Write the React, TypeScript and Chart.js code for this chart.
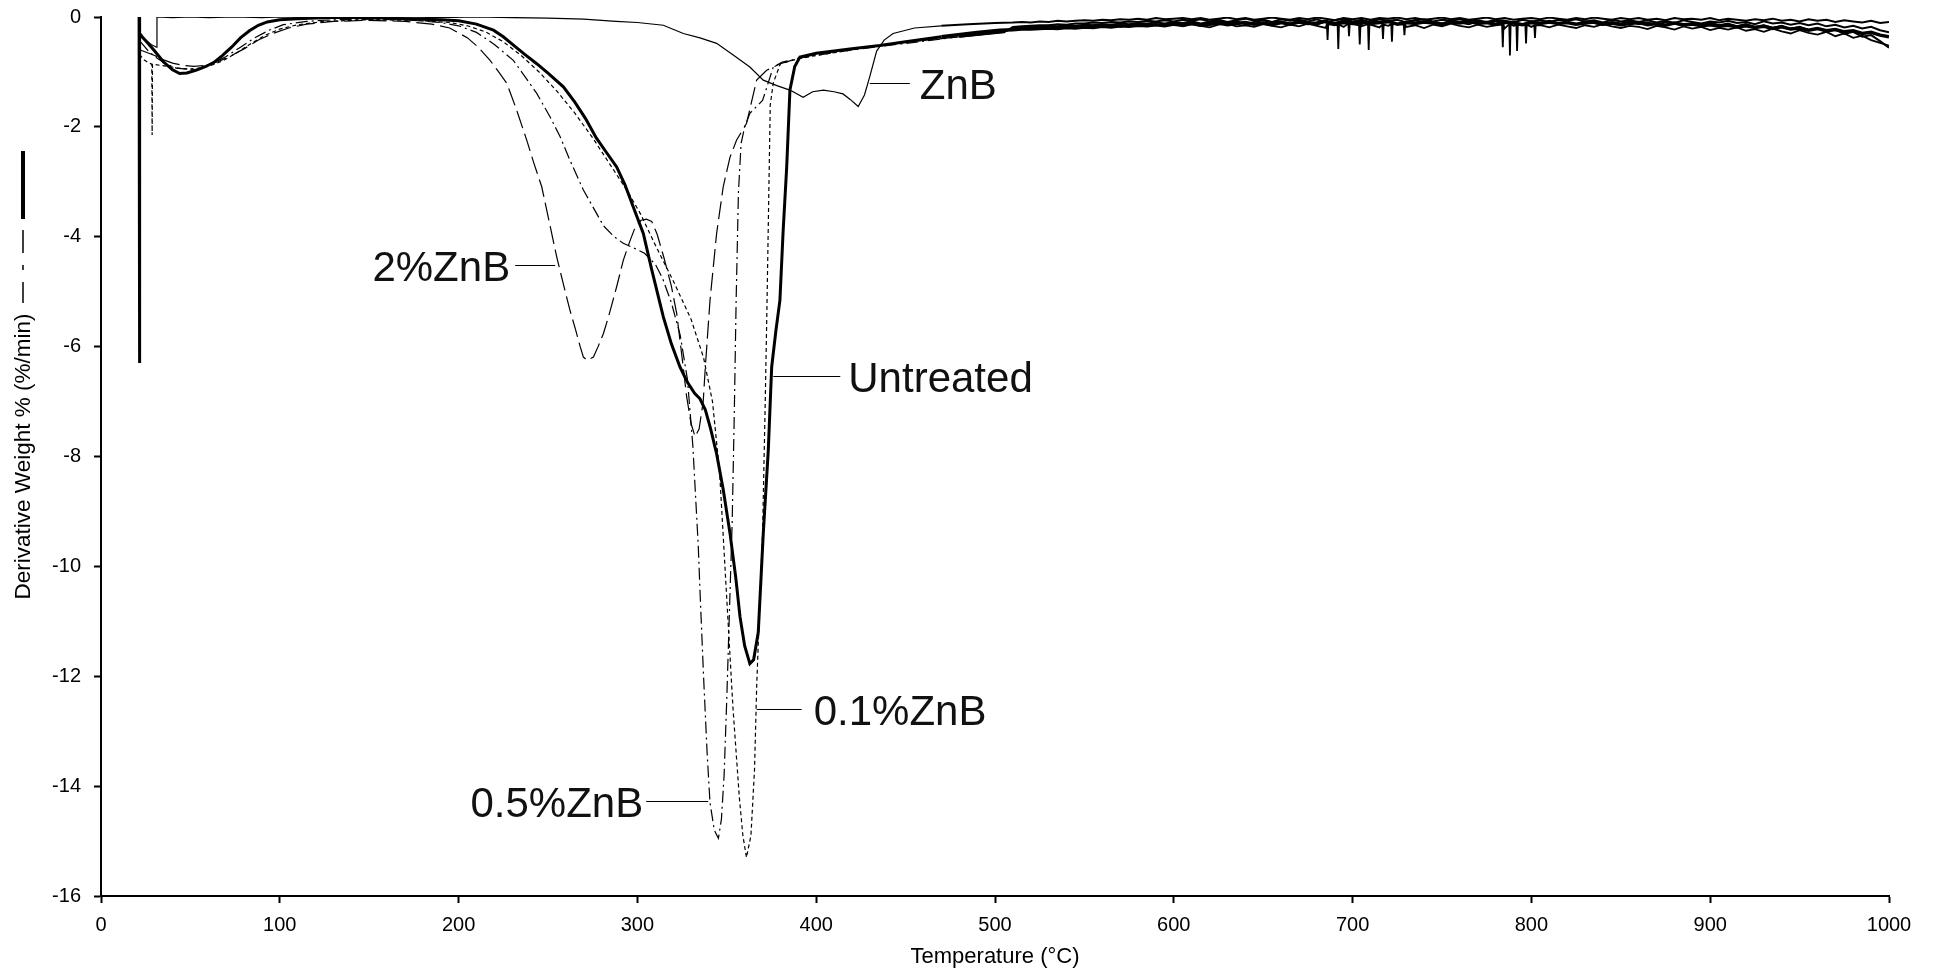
import React, { useEffect, useRef } from 'react';
import { Chart, registerables } from 'chart.js';

Chart.register(...registerables);

const FONT = '"Liberation Sans", Arial, Helvetica, sans-serif';

// ---- axes ----
const X_TICKS = [0, 100, 200, 300, 400, 500, 600, 700, 800, 900, 1000];
const Y_TICKS = [0, -2, -4, -6, -8, -10, -12, -14, -16];
const X_TITLE = 'Temperature (°C)';
const Y_TITLE = 'Derivative Weight % (%/min)';

// ---- series (temperature °C, derivative weight %/min) ----
const UNTREATED: [number, number][] = [
  [21.3, 0], [21.5, -6.3], [21.7, -0.3], [23, -0.36], [26, -0.47], [30, -0.62], [35, -0.82], [40, -0.96], [44, -1.03],
  [48, -1.02], [53, -0.97], [58, -0.91], [63, -0.83], [68, -0.7], [73, -0.55], [78, -0.38], [83, -0.25], [88, -0.15],
  [93, -0.09], [100, -0.05], [110, -0.03], [120, -0.02], [130, -0.01], [140, -0.01], [150, -0.02], [160, -0.02],
  [170, -0.03], [180, -0.04], [190, -0.05], [200, -0.07], [210, -0.13], [219.5, -0.24], [225, -0.36], [231, -0.52],
  [237, -0.68], [243.7, -0.85], [250, -1.02], [258.6, -1.27], [265, -1.55], [271, -1.85], [277, -2.2], [283, -2.48],
  [288.4, -2.73], [293, -3.05], [297.7, -3.46], [303.3, -3.94], [308, -4.6], [314.5, -5.46], [319, -5.95],
  [323.8, -6.37], [328, -6.65], [332, -6.85], [335, -6.95], [338, -7.15], [341, -7.5], [344.3, -7.95], [348, -8.6],
  [351.8, -9.4], [355, -10.2], [357.4, -10.92], [360, -11.45], [362.9, -11.77], [365, -11.7], [367.6, -11.2],
  [370.4, -9.4], [373.2, -7.89], [375.1, -6.37], [377.5, -5.7], [379.7, -5.16], [381.5, -3.9], [383.5, -2.73],
  [385.3, -1.33], [388, -0.9], [390.9, -0.73], [400, -0.66], [410, -0.62], [418.8, -0.58], [435.6, -0.52],
  [450, -0.45], [470, -0.36], [490, -0.28], [502.7, -0.24],
];

const ZNB: [number, number][] = [
  [21.5, -0.3], [25, -0.42], [28, -0.5], [31, -0.55], [31.3, 0], [40, -0.01], [50, 0], [60, -0.01], [75, 0],
  [90, -0.01], [100, 0], [115, -0.01], [130, 0], [150, -0.01], [170, 0], [190, -0.01], [210, 0], [230, -0.01],
  [250, -0.02], [270, -0.04], [288, -0.08], [300, -0.1], [314.5, -0.15], [325.7, -0.3], [335, -0.38], [344.3, -0.48],
  [353, -0.68], [362.9, -0.91], [370.4, -1.15], [378, -1.25], [385.3, -1.33], [392.7, -1.46], [398, -1.36],
  [404, -1.33], [410, -1.36], [415, -1.4], [419, -1.5], [423.5, -1.63], [427, -1.42], [430, -1.08], [433.8, -0.62],
  [438, -0.42], [443, -0.3], [455, -0.2], [470, -0.16], [485, -0.13], [500, -0.11],
];

const ZNB_01: [number, number][] = [
  [21.5, -0.68], [24, -0.78], [27, -0.84], [28.4, -0.86], [28.6, -2.15], [28.8, -0.86], [33, -0.88], [38, -0.9],
  [45, -0.94], [52, -0.95], [60, -0.9], [68, -0.8], [76, -0.65], [84, -0.48], [92, -0.33], [100, -0.22], [110, -0.14],
  [125, -0.08], [150, -0.05], [175, -0.06], [195, -0.1], [205, -0.16], [215, -0.27], [225, -0.45], [235, -0.7],
  [245, -1.0], [255, -1.35], [265, -1.75], [275, -2.2], [285, -2.7], [295, -3.2], [302, -3.6], [310, -4.15],
  [320, -4.8], [330, -5.5], [337, -6.2], [342, -7.0], [346, -8.3], [350, -10.6], [353.5, -12.6], [357, -14.2],
  [359, -14.9], [361, -15.3], [363.5, -14.9], [365.5, -13.7], [366.7, -12.2], [368.5, -10.6], [370, -9.4],
  [371.5, -7], [372.5, -5.2], [373.5, -3.2], [374.3, -1.6], [376, -1.2], [380, -0.85], [390, -0.76], [400, -0.7],
  [420, -0.6], [450, -0.45], [480, -0.33], [505, -0.25],
];

const ZNB_05: [number, number][] = [
  [22, -0.45], [26, -0.6], [30, -0.72], [36, -0.85], [42, -0.93], [48, -0.95], [55, -0.93], [62, -0.85], [70, -0.72],
  [78, -0.55], [86, -0.38], [94, -0.24], [102, -0.14], [115, -0.08], [130, -0.05], [150, -0.04], [170, -0.05],
  [190, -0.1], [200, -0.16], [210, -0.28], [220, -0.5], [230.6, -0.79], [237, -1.08], [243.7, -1.39], [251.2, -1.82],
  [256.8, -2.18], [262.3, -2.61], [269.8, -3.15], [275, -3.45], [281, -3.8], [287, -4.0], [292.1, -4.12],
  [297.7, -4.2], [304, -4.3], [310, -4.5], [314, -4.75], [319, -5.2], [324, -5.8], [328, -6.6], [331, -7.8],
  [334, -9.6], [335.2, -10.6], [337, -12], [339, -13.4], [340.6, -14.3], [343, -14.8], [345.3, -14.95], [347, -14.6],
  [348.5, -13.8], [350, -12.4], [351.5, -10.8], [353, -9.2], [354.2, -7.2], [355.2, -5.2], [356.5, -3.2], [358, -2.3],
  [360, -2.0], [363, -1.75], [370, -1.52], [376, -0.91], [381, -0.82], [395, -0.72], [420, -0.6], [450, -0.48],
  [480, -0.36], [505, -0.27],
];

const ZNB_2: [number, number][] = [
  [22, -0.6], [26, -0.65], [30, -0.7], [35, -0.78], [40, -0.84], [46, -0.88], [52, -0.9], [58, -0.88], [65, -0.82],
  [72, -0.72], [80, -0.58], [88, -0.42], [96, -0.3], [105, -0.2], [115, -0.13], [130, -0.08], [150, -0.06],
  [170, -0.08], [185, -0.13], [195, -0.2], [205, -0.38], [211, -0.55], [217.6, -0.79], [222, -0.98], [227, -1.21],
  [232, -1.65], [238.1, -2.24], [242, -2.65], [246.5, -3.09], [250.5, -3.7], [254.9, -4.37], [258.5, -4.85],
  [262.3, -5.34], [265.5, -5.7], [268, -6.0], [269.8, -6.19], [272, -6.25], [275.4, -6.19], [278, -6.0], [281, -5.76],
  [283.8, -5.46], [286, -5.2], [288.4, -4.91], [292.1, -4.43], [295.9, -4.07], [298.5, -3.85], [302, -3.7],
  [305, -3.68], [308, -3.72], [311, -3.95], [315, -4.4], [319, -4.9], [322, -5.4], [325, -6.2], [327.5, -6.9],
  [330, -7.4], [332.3, -7.64], [334.5, -7.5], [336.8, -7.0], [338, -6.37], [340.6, -5.16], [344.3, -3.94],
  [348, -3.09], [351.8, -2.55], [355.5, -2.24], [361, -1.94], [366.7, -1.15], [372.3, -0.97], [380, -0.85],
  [390, -0.75], [400, -0.68], [420, -0.58], [450, -0.46], [480, -0.36], [505, -0.28],
];

// ---- noisy high-temperature tails (510..1000 °C, every 5 °C) ----
const TAIL_T = [
  510, 515, 520, 525, 530, 535, 540, 545, 550, 555,
  560, 565, 570, 575, 580, 585, 590, 595, 600, 605,
  610, 615, 620, 625, 630, 635, 640, 645, 650, 655,
  660, 665, 670, 675, 680, 685, 690, 695, 700, 705,
  710, 715, 720, 725, 730, 735, 740, 745, 750, 755,
  760, 765, 770, 775, 780, 785, 790, 795, 800, 805,
  810, 815, 820, 825, 830, 835, 840, 845, 850, 855,
  860, 865, 870, 875, 880, 885, 890, 895, 900, 905,
  910, 915, 920, 925, 930, 935, 940, 945, 950, 955,
  960, 965, 970, 975, 980, 985, 990, 995, 1000,
];
const TAIL_UNTREATED = [
  -0.23, -0.22, -0.22, -0.21, -0.2, -0.21, -0.19, -0.2, -0.18, -0.19,
  -0.17, -0.18, -0.16, -0.17, -0.15, -0.16, -0.14, -0.16, -0.13, -0.15,
  -0.12, -0.15, -0.13, -0.11, -0.14, -0.12, -0.1, -0.13, -0.11, -0.14,
  -0.1, -0.13, -0.09, -0.12, -0.11, -0.08, -0.13, -0.1, -0.12, -0.09,
  -0.12, -0.1, -0.08, -0.13, -0.1, -0.12, -0.09, -0.11, -0.13, -0.09,
  -0.11, -0.08, -0.12, -0.1, -0.13, -0.09, -0.11, -0.14, -0.1, -0.12,
  -0.09, -0.12, -0.1, -0.13, -0.11, -0.09, -0.13, -0.11, -0.14, -0.12,
  -0.1, -0.14, -0.12, -0.15, -0.11, -0.14, -0.13, -0.16, -0.14, -0.17,
  -0.15, -0.18, -0.16, -0.19, -0.17, -0.21, -0.18, -0.22, -0.2, -0.24,
  -0.21, -0.25, -0.23, -0.27, -0.25, -0.3, -0.28, -0.33, -0.36,
];
const TAIL_ZNB = [
  -0.1, -0.09, -0.1, -0.08, -0.09, -0.07, -0.08, -0.07, -0.06, -0.07,
  -0.05, -0.06, -0.04, -0.05, -0.03, -0.05, -0.02, -0.04, -0.03, -0.02,
  -0.04, -0.02, -0.05, -0.03, -0.01, -0.04, -0.02, -0.05, -0.03, -0.01,
  -0.03, -0.05, -0.02, -0.04, -0.01, -0.03, -0.06, -0.02, -0.04, -0.02,
  -0.05, -0.02, -0.03, -0.01, -0.04, -0.02, -0.05, -0.03, -0.01, -0.04,
  -0.02, -0.05, -0.03, -0.01, -0.04, -0.02, -0.05, -0.03, -0.02, -0.04,
  -0.01, -0.03, -0.05, -0.02, -0.04, -0.01, -0.03, -0.05, -0.02, -0.04,
  -0.02, -0.05, -0.03, -0.06, -0.02, -0.04, -0.03, -0.05, -0.02, -0.06,
  -0.03, -0.05, -0.07, -0.04, -0.06, -0.03, -0.07, -0.05, -0.08, -0.04,
  -0.07, -0.05, -0.09, -0.06, -0.08, -0.1, -0.07, -0.11, -0.09,
];
const TAIL_01 = [
  -0.22, -0.2, -0.21, -0.19, -0.2, -0.17, -0.19, -0.16, -0.18, -0.15,
  -0.17, -0.14, -0.18, -0.15, -0.13, -0.17, -0.14, -0.16, -0.12, -0.17,
  -0.13, -0.16, -0.19, -0.14, -0.12, -0.17, -0.15, -0.18, -0.13, -0.16,
  -0.19, -0.14, -0.17, -0.12, -0.16, -0.2, -0.15, -0.18, -0.13, -0.17,
  -0.14, -0.19, -0.16, -0.13, -0.18, -0.15, -0.2, -0.14, -0.17, -0.12,
  -0.16, -0.19, -0.14, -0.18, -0.15, -0.21, -0.16, -0.13, -0.18, -0.15,
  -0.19, -0.14, -0.17, -0.2, -0.15, -0.18, -0.13, -0.17, -0.2, -0.16,
  -0.18, -0.22, -0.16, -0.19, -0.23, -0.17, -0.21, -0.18, -0.24, -0.2,
  -0.23, -0.19, -0.25, -0.22, -0.27, -0.21, -0.26, -0.3, -0.24, -0.29,
  -0.32, -0.27, -0.35, -0.3, -0.38, -0.34, -0.42, -0.47, -0.52,
];
const TAIL_05 = [
  -0.2, -0.19, -0.18, -0.18, -0.16, -0.17, -0.15, -0.16, -0.14, -0.15,
  -0.13, -0.14, -0.12, -0.13, -0.11, -0.12, -0.1, -0.12, -0.09, -0.11,
  -0.08, -0.12, -0.09, -0.07, -0.11, -0.08, -0.13, -0.09, -0.06, -0.1,
  -0.08, -0.12, -0.07, -0.1, -0.14, -0.08, -0.11, -0.06, -0.1, -0.13,
  -0.07, -0.11, -0.09, -0.13, -0.08, -0.06, -0.11, -0.09, -0.12, -0.07,
  -0.1, -0.13, -0.08, -0.11, -0.07, -0.12, -0.09, -0.14, -0.08, -0.11,
  -0.07, -0.12, -0.09, -0.13, -0.08, -0.11, -0.14, -0.09, -0.12, -0.08,
  -0.13, -0.1, -0.14, -0.09, -0.12, -0.16, -0.11, -0.14, -0.1, -0.15,
  -0.12, -0.17, -0.13, -0.18, -0.15, -0.2, -0.16, -0.22, -0.18, -0.24,
  -0.2, -0.27, -0.23, -0.31, -0.27, -0.36, -0.33, -0.44, -0.56,
];
const TAIL_2 = [
  -0.18, -0.17, -0.16, -0.15, -0.15, -0.13, -0.14, -0.12, -0.12, -0.1,
  -0.11, -0.09, -0.1, -0.08, -0.09, -0.07, -0.08, -0.06, -0.08, -0.05,
  -0.07, -0.04, -0.08, -0.05, -0.09, -0.06, -0.03, -0.07, -0.05, -0.09,
  -0.04, -0.07, -0.05, -0.08, -0.04, -0.1, -0.06, -0.03, -0.08, -0.05,
  -0.09, -0.04, -0.07, -0.05, -0.1, -0.06, -0.04, -0.08, -0.05, -0.07,
  -0.04, -0.08, -0.06, -0.09, -0.05, -0.07, -0.1, -0.05, -0.08, -0.06,
  -0.09, -0.05, -0.07, -0.04, -0.08, -0.06, -0.1, -0.05, -0.08, -0.06,
  -0.09, -0.06, -0.1, -0.07, -0.11, -0.06, -0.09, -0.12, -0.08, -0.1,
  -0.07, -0.11, -0.09, -0.13, -0.08, -0.12, -0.1, -0.14, -0.11, -0.15,
  -0.12, -0.17, -0.14, -0.19, -0.16, -0.21, -0.18, -0.24, -0.28,
];
// narrow noise spikes in the 0.1%ZnB trace
const SPIKES_01: [number, number][] = [
  [685.6, -0.13], [686, -0.42], [686.4, -0.13], [691.6, -0.14], [692, -0.58], [692.4, -0.14], [697.6, -0.12],
  [698, -0.35], [698.4, -0.12], [703.6, -0.15], [704, -0.5], [704.4, -0.15], [708.6, -0.13], [709, -0.6],
  [709.4, -0.13], [716.6, -0.14], [717, -0.4], [717.4, -0.14], [721.6, -0.13], [722, -0.45], [722.4, -0.13],
  [728.6, -0.14], [729, -0.33], [729.4, -0.14], [783.6, -0.14], [784, -0.55], [784.4, -0.14], [787.6, -0.13],
  [788, -0.7], [788.4, -0.13], [791.6, -0.15], [792, -0.62], [792.4, -0.15], [796.6, -0.14], [797, -0.48],
  [797.4, -0.14], [801.6, -0.15], [802, -0.38], [802.4, -0.15],
];

// ---- annotations (text, anchor temperature, anchor value) ----
const ANNOT_TEXT = ['2%ZnB', 'Untreated', '0.1%ZnB', '0.5%ZnB', 'ZnB'];
const ANNOT_T = [254, 376, 366.7, 339.6, 430];
const ANNOT_V = [-4.52, -6.54, -12.59, -14.27, -1.21];

function build(main: [number, number][], tail: number[], spikes: [number, number][] = []) {
  const pts = main.map(([x, y]) => ({ x, y }));
  TAIL_T.forEach((t, i) => pts.push({ x: t, y: tail[i] }));
  spikes.forEach(([x, y]) => pts.push({ x, y }));
  pts.sort((a, b) => a.x - b.x);
  return pts;
}

const annotPlugin = {
  id: 'annots',
  afterDraw(chart: any) {
    const { ctx, scales } = chart;
    const xs = scales.x;
    const ys = scales.y;
    const side = [-1, 1, 1, -1, 1];
    const leader = [40, 67, 45, 62, 40];
    const gap = [5, 8, 12, 3, 10];
    ctx.save();
    ctx.strokeStyle = '#000';
    ctx.fillStyle = '#111';
    ctx.lineWidth = 1.2;
    ctx.font = `42px ${FONT}`;
    ctx.textBaseline = 'alphabetic';
    ANNOT_TEXT.forEach((txt, i) => {
      const px = xs.getPixelForValue(ANNOT_T[i]);
      const py = Math.round(ys.getPixelForValue(ANNOT_V[i])) + 0.5;
      const ex = px + side[i] * leader[i];
      ctx.beginPath();
      ctx.moveTo(px, py);
      ctx.lineTo(ex, py);
      ctx.stroke();
      ctx.textAlign = side[i] < 0 ? 'right' : 'left';
      ctx.fillText(txt, ex + side[i] * gap[i], py + 15);
    });
    // line-style key next to the y-axis title
    const kx = 23;
    ctx.lineWidth = 4;
    ctx.beginPath();
    ctx.moveTo(kx, 151);
    ctx.lineTo(kx, 219);
    ctx.stroke();
    ctx.lineWidth = 1.5;
    [[230, 253], [265, 270], [282, 303]].forEach(([a, b]) => {
      ctx.beginPath();
      ctx.moveTo(kx, a);
      ctx.lineTo(kx, b);
      ctx.stroke();
    });
    ctx.restore();
  },
};

// the high-temperature part of every trace is a dense noisy band: draw it solid and a bit heavier
function tailSegment(width: number) {
  return {
    borderWidth: (c: any) => (c.p0.parsed.x >= 470 ? width : undefined),
    borderDash: (c: any) => (c.p0.parsed.x >= 470 ? [] : undefined),
  };
}

export default function App() {
  const ref = useRef<HTMLCanvasElement | null>(null);
  useEffect(() => {
    if (!ref.current) return;
    const common = { showLine: true, pointRadius: 0, borderColor: '#000', tension: 0, fill: false };
    const chart = new Chart(ref.current, {
      type: 'scatter',
      data: {
        datasets: [
          { ...common, label: 'ZnB', data: build(ZNB, TAIL_ZNB), borderWidth: 1.2, segment: tailSegment(2) },
          { ...common, label: '2%ZnB', data: build(ZNB_2, TAIL_2), borderWidth: 1.2, borderDash: [18, 6], segment: tailSegment(2) },
          { ...common, label: '0.5%ZnB', data: build(ZNB_05, TAIL_05), borderWidth: 1.2, borderDash: [12, 4, 2, 4], segment: tailSegment(2) },
          { ...common, label: '0.1%ZnB', data: build(ZNB_01, TAIL_01, SPIKES_01), borderWidth: 1.2, borderDash: [4, 3], segment: tailSegment(1.8) },
          { ...common, label: 'Untreated', data: build(UNTREATED, TAIL_UNTREATED), borderWidth: 3, segment: tailSegment(3.5) },
        ],
      } as any,
      options: {
        animation: false,
        responsive: false,
        layout: { padding: { left: 0, right: 44, top: 17, bottom: 0 } },
        plugins: { legend: { display: false }, tooltip: { enabled: false } },
        scales: {
          x: {
            type: 'linear',
            min: X_TICKS[0],
            max: X_TICKS[X_TICKS.length - 1],
            afterBuildTicks: (s: any) => { s.ticks = X_TICKS.map((v) => ({ value: v })); },
            afterFit: (s: any) => { s.height = 72; s.paddingLeft = 0; s.paddingRight = 0; },
            ticks: { color: '#000', font: { family: FONT, size: 20 }, padding: 10, callback: (v: any) => String(v), maxRotation: 0, autoSkip: false },
            grid: { display: true, drawOnChartArea: false, drawTicks: true, tickLength: 7, tickWidth: 2, color: '#000' },
            border: { display: true, color: '#000', width: 2 },
            title: { display: true, text: X_TITLE, color: '#000', font: { family: FONT, size: 22, lineHeight: 1.0 }, padding: { top: 0, bottom: 0 } },
          },
          y: {
            type: 'linear',
            min: Y_TICKS[Y_TICKS.length - 1],
            max: Y_TICKS[0],
            afterBuildTicks: (s: any) => { s.ticks = Y_TICKS.slice().reverse().map((v) => ({ value: v })); },
            afterFit: (s: any) => { s.width = 101; s.paddingTop = 0; s.paddingBottom = 0; },
            ticks: { color: '#000', font: { family: FONT, size: 20 }, padding: 13, callback: (v: any) => String(v), autoSkip: false },
            grid: { display: true, drawOnChartArea: false, drawTicks: true, tickLength: 7, tickWidth: 2, color: '#000' },
            border: { display: true, color: '#000', width: 2 },
            title: { display: true, text: Y_TITLE, color: '#000', font: { family: FONT, size: 22.5, lineHeight: 1.2 }, padding: { top: 10, bottom: 0 } },
          },
        },
      } as any,
      plugins: [annotPlugin],
    });
    return () => chart.destroy();
  }, []);
  return (
    <div style={{ position: 'absolute', left: 0, top: 0, width: 1933, height: 968, background: '#fff' }}>
      <canvas ref={ref} width={1933} height={968} style={{ display: 'block' }} />
    </div>
  );
}
